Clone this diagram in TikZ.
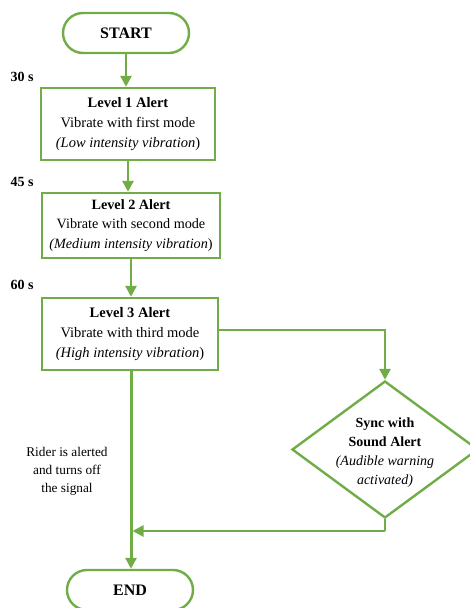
\documentclass[tikz,border=0pt]{standalone}
\usepackage{fontspec}
\setmainfont{Liberation Serif}
\usetikzlibrary{shapes.geometric,arrows.meta}
\definecolor{fg}{RGB}{112,173,71}
\tikzset{
  term/.style={draw=fg,line width=2.4pt,rounded corners=20pt,minimum width=126pt,minimum height=40pt,inner sep=0pt,font=\fontsize{16}{18}\selectfont\bfseries},
  procbox/.style={draw=fg,line width=2.4pt,inner sep=0pt,align=center,font=\fontsize{14.5}{20}\selectfont},
  decbox/.style={draw=fg,line width=2.4pt,diamond,inner sep=0pt},
  dectext/.style={align=center,inner sep=0pt,font=\fontsize{14}{19}\selectfont},
  flow/.style={draw=fg,line width=2.6pt,-{Triangle[length=11pt,width=11pt]}},
  plainline/.style={draw=fg,line width=2.6pt},
  tlabel/.style={font=\fontsize{14}{16}\selectfont\bfseries,anchor=center},
  note/.style={font=\fontsize{13.3}{18}\selectfont,align=center}
}
\begin{document}
\begin{tikzpicture}[x=1pt,y=-1pt]
\useasboundingbox (0,0) rectangle (470,608);
\node[term] (start) at (126,33) {START};
\node[procbox,minimum width=174pt,minimum height=72pt] (l1) at (128,124) {\textbf{Level 1 Alert}\\Vibrate with first mode\\\textit{(Low intensity vibration})};
\node[procbox,minimum width=178pt,minimum height=65pt,font=\fontsize{14.2}{19.5}\selectfont] (l2) at (131,225.5) {\textbf{Level 2 Alert}\\Vibrate with second mode\\\textit{(Medium intensity vibration})};
\node[procbox,minimum width=176pt,minimum height=72pt] (l3) at (130,334) {\textbf{Level 3 Alert}\\Vibrate with third mode\\\textit{(High intensity vibration})};
\node[decbox,minimum width=186pt,minimum height=137pt] (snd) at (385,449.5) {};
\node[dectext] (sndtext) at (385,452.5) {\textbf{Sync with}\\\textbf{Sound Alert}\\\textit{(Audible warning}\\\textit{activated)}};
\node[term] (end) at (130,590) {END};
\node[tlabel] (t30) at (22,77) {30 s};
\node[tlabel] (t45) at (22,182) {45 s};
\node[tlabel] (t60) at (22,285) {60 s};
\node[note] (rider) at (67,471) {Rider is alerted\\and turns off\\the signal};
\coordinate (c1) at (385,330);
\coordinate (c2) at (385,531);
\coordinate (c3) at (131,531);
\draw[flow] (start.south) -- (start.south |- l1.north);
\draw[flow] (l1.south) -- (l1.south |- l2.north);
\draw[flow] (l2.south) -- (l2.south |- l3.north);
\draw[flow,line width=3pt] (l3.south -| c3) -- (end.north -| c3);
\draw[flow] (l3.east |- c1) -- (c1) -- (snd.north);
\draw[plainline] (snd.south) -- (c2);
\draw[flow] (c2) -- ([xshift=1.5pt]c3);
\end{tikzpicture}
\end{document}
